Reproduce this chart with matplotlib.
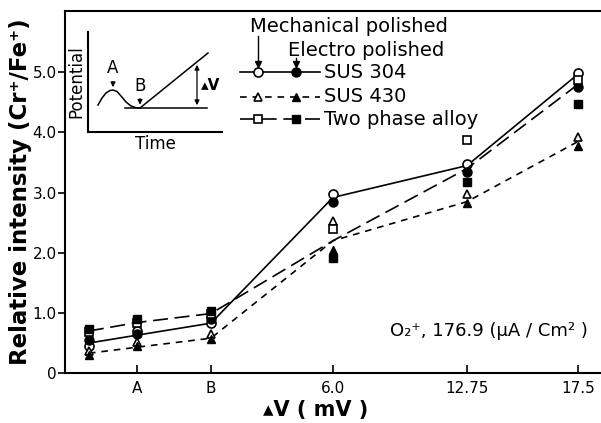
import numpy as np
import matplotlib
matplotlib.use("Agg")
import matplotlib.pyplot as plt

# data
xpos = [0, 4.8, 12.2, 24.4, 37.8, 48.9]
xtick_labels = ["", "A", "B", "6.0", "12.75", "17.5"]

sus304_mech = [0.45, 0.70, 0.83, 2.98, 3.48, 4.99]
sus304_elec = [0.55, 0.65, 0.90, 2.85, 3.35, 4.75]
sus304_line = [0.50, 0.63, 0.83, 2.92, 3.45, 4.97]

sus430_mech = [0.36, 0.52, 0.65, 2.53, 2.98, 3.92]
sus430_elec = [0.30, 0.45, 0.56, 2.05, 2.83, 3.78]
sus430_line = [0.33, 0.43, 0.58, 2.20, 2.85, 3.85]

two_mech = [0.68, 0.83, 0.98, 2.40, 3.88, 4.88]
two_elec = [0.73, 0.90, 1.03, 1.92, 3.17, 4.48]
two_line = [0.70, 0.84, 0.99, 2.20, 3.40, 4.80]

# inset sketch (potential vs time)
sketch_x = [10, 14, 18, 22, 25, 29, 33, 38, 43, 48, 52, 120]
sketch_y = [27, 34, 39, 41.5, 42, 40.5, 36, 30, 26, 24.3, 24, 79]

SOLID = "-"
SHORT = (0, (4, 3.5))
LONG = (0, (9, 4))

plt.rcParams["font.family"] = ["DejaVu Sans"]

fig = plt.figure(figsize=(6.01, 4.23), dpi=100)
ax = fig.add_axes([0.108, 0.118, 0.892, 0.856])

series = [
    (sus304_mech, sus304_elec, sus304_line, "o", SOLID, 6.5),
    (sus430_mech, sus430_elec, sus430_line, "^", SHORT, 5.5),
    (two_mech, two_elec, two_line, "s", LONG, 6),
]
for mech, elec, line, mk, ls, ms in series:
    ax.plot(xpos, line, color="black", lw=1.2, linestyle=ls)
    ax.plot(xpos, mech, mk, ms=ms, mfc="white", mec="black", mew=1.2, ls="none")
    ax.plot(xpos, elec, mk, ms=ms, mfc="black", mec="black", ls="none")

ax.set_xlim(-2.4, 51.2)
ax.set_ylim(0, 6.02)
ax.spines["right"].set_visible(False)
for s in ["left", "bottom", "top"]:
    ax.spines[s].set_linewidth(1.5)

ax.set_xticks(xpos[1:])
ax.set_xticklabels(xtick_labels[1:], fontsize=11)
ax.set_yticks([0, 1, 2, 3, 4, 5])
ax.set_yticklabels(["0", "1.0", "2.0", "3.0", "4.0", "5.0"], fontsize=11)
ax.tick_params(axis="x", direction="in", length=6, width=1.2, pad=6)
ax.tick_params(axis="y", direction="out", length=5, width=1.2, pad=1)

ax.set_xlabel("\u25b4V ( mV )", fontsize=15, fontweight="bold", labelpad=0)
ax.xaxis.set_label_coords((316 - 65) / 536, -0.075)
ax.set_ylabel("Relative intensity (Cr\u207a/Fe\u207a)", fontsize=16.5,
              fontweight="bold", labelpad=0)

ax.text(0.976, 0.115, "O\u2082\u207a, 176.9 (\u03bcA / Cm\u00b2 )",
        transform=ax.transAxes, ha="right", va="center", fontsize=13)

# hand-made legend, placed in figure pixels
def fx(px):
    return px / 601

def fy(py):
    return 1 - py / 423

rows = [("SUS 304", 72, "o", SOLID, 6.5), ("SUS 430", 97, "^", SHORT, 5.5),
        ("Two phase alloy", 119, "s", LONG, 6)]
for label, py, mk, ls, ms in rows:
    fig.add_artist(plt.Line2D([fx(240), fx(320)], [fy(py), fy(py)], color="black",
                              lw=1.2, linestyle=ls))
    fig.add_artist(plt.Line2D([fx(258)], [fy(py)], marker=mk, ms=ms, mfc="white",
                              mec="black", mew=1.2))
    fig.add_artist(plt.Line2D([fx(296)], [fy(py)], marker=mk, ms=ms, mfc="black",
                              mec="black"))
    fig.text(fx(324), fy(py), label, fontsize=14, va="center", ha="left")

fig.text(fx(250), fy(27), "Mechanical polished", fontsize=14, va="center")
fig.text(fx(288), fy(50), "Electro polished", fontsize=14, va="center")
fig.add_artist(plt.Line2D([fx(258), fx(258)], [fy(36), fy(64)], color="black", lw=1))
fig.add_artist(plt.Line2D([fx(296), fx(296)], [fy(58), fy(64)], color="black", lw=1))
for px in (258, 296):
    fig.add_artist(plt.Line2D([fx(px)], [fy(64)], marker="v", ms=4,
                              color="black"))

# inset sketch
ins = fig.add_axes([88 / 601, 1 - 132 / 423, 134 / 601, 100 / 423])
ins.set_xlim(0, 134)
ins.set_ylim(0, 100)
ins.spines["right"].set_visible(False)
ins.spines["top"].set_visible(False)
ins.spines["left"].set_linewidth(1.5)
ins.spines["bottom"].set_linewidth(1.5)
ins.set_xticks([])
ins.set_yticks([])
ins.set_facecolor("none")
ins.set_xlabel("Time", fontsize=12, labelpad=2)
ins.set_ylabel("Potential", fontsize=12, labelpad=2)
ins.plot(sketch_x, sketch_y, color="black", lw=1.1)
ins.plot([37, 119], [24, 24], color="black", lw=1.1)
ins.annotate("", xy=(25, 42), xytext=(25, 53),
             arrowprops=dict(arrowstyle="-|>", color="black", lw=0.9,
                             mutation_scale=7))
ins.text(25, 55, "A", ha="center", va="bottom", fontsize=12)
ins.annotate("", xy=(52, 24.5), xytext=(52, 36),
             arrowprops=dict(arrowstyle="-|>", color="black", lw=0.9,
                             mutation_scale=7))
ins.text(52, 37, "B", ha="center", va="bottom", fontsize=12)
ins.annotate("", xy=(109, 70), xytext=(109, 24),
             arrowprops=dict(arrowstyle="<|-|>", color="black", lw=0.9,
                             mutation_scale=7))
ins.text(113, 46, "\u25b4V", ha="left", va="center", fontsize=11, fontweight="bold")

fig.savefig("out.png", dpi=100)
